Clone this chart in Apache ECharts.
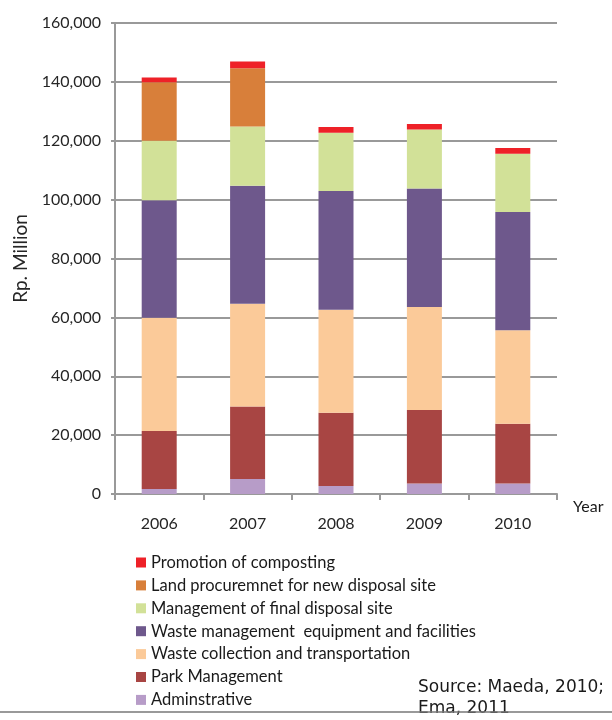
<!DOCTYPE html>
<html>
<head>
<meta charset="utf-8">
<script src="https://cdn.jsdelivr.net/npm/echarts@6/dist/echarts.min.js"></script>
<style>
  html, body { margin: 0; padding: 0; background: #fff; }
  #chart { width: 612px; height: 720px; }
</style>
</head>
<body>
<div id="chart"></div>
<script>
// data (Rp. Million)
const years = ['2006', '2007', '2008', '2009', '2010'];
const administrative = [1700, 5100, 2700, 3600, 3600];
const parkManagement = [19700, 24600, 24900, 24900, 20300];
const wasteCollection = [38500, 34900, 35000, 35000, 31700];
const wasteEquipment = [39900, 40100, 40300, 40300, 40200];
const finalDisposal = [20200, 20100, 19800, 20000, 19800];
const landProcurement = [19900, 19800, 0, 0, 0];
const composting = [1600, 2300, 2000, 1900, 1900];
const yTicks = [0, 20000, 40000, 60000, 80000, 100000, 120000, 140000, 160000];

const font = 'Lato, "Open Sans", sans-serif';
const textColor = '#262626';
const gridColor = '#999999';

// bottom of stack first
const seriesDefs = [
  { name: 'Adminstrative', data: administrative, color: '#b79cc8' },
  { name: 'Park Management', data: parkManagement, color: '#a84543' },
  { name: 'Waste collection and transportation', data: wasteCollection, color: '#fbca99' },
  { name: 'Waste management  equipment and facilities', data: wasteEquipment, color: '#6e588c' },
  { name: 'Management of final disposal site', data: finalDisposal, color: '#d2e198' },
  { name: 'Land procuremnet for new disposal site', data: landProcurement, color: '#d87f3a' },
  { name: 'Promotion of composting', data: composting, color: '#ee2128' },
];

const chart = echarts.init(document.getElementById('chart'), null, { renderer: 'canvas' });

chart.setOption({
  backgroundColor: '#ffffff',
  animation: false,
  grid: { left: 115, right: 55, top: 23, bottom: 226 },
  legend: {
    orient: 'vertical',
    left: 136,
    top: 554,
    padding: 0,
    itemWidth: 10,
    itemHeight: 10,
    itemGap: 5.9,
    icon: 'rect',
    data: seriesDefs.map((s) => s.name).reverse(),
    textStyle: { fontFamily: font, fontSize: 16.5, lineHeight: 16.5, color: '#1a1a1a' },
  },
  xAxis: {
    type: 'category',
    data: years,
    axisLine: { lineStyle: { color: gridColor, width: 2 } },
    axisTick: { show: true, length: 6, lineStyle: { color: gridColor, width: 2 } },
    axisLabel: { color: textColor, fontFamily: font, fontSize: 16, margin: 22 },
  },
  yAxis: {
    type: 'value',
    min: yTicks[0],
    max: yTicks[yTicks.length - 1],
    interval: yTicks[1] - yTicks[0],
    name: 'Rp. Million',
    nameLocation: 'middle',
    nameRotate: 90,
    nameGap: 83,
    nameTextStyle: { color: textColor, fontFamily: font, fontSize: 19 },
    axisLine: { show: true, lineStyle: { color: gridColor, width: 2 } },
    axisTick: { show: true, length: 4, lineStyle: { color: gridColor, width: 2 } },
    axisLabel: {
      color: textColor,
      fontFamily: font,
      fontSize: 16,
      margin: 14,
      formatter: (v) => v.toLocaleString('en-US'),
    },
    splitLine: { lineStyle: { color: gridColor, width: 2 } },
  },
  series: seriesDefs.map((s) => ({
    name: s.name,
    type: 'bar',
    stack: 'total',
    barWidth: 35,
    data: s.data,
    itemStyle: { color: s.color },
  })),
  graphic: [
    {
      type: 'text',
      left: 573,
      top: 499,
      style: { text: 'Year', fill: '#1a1a1a', font: '16px ' + font },
    },
    {
      type: 'text',
      left: 418,
      top: 677,
      style: {
        text: 'Source: Maeda, 2010;\nEma, 2011',
        fill: '#1a1a1a',
        font: '17px "DejaVu Sans", sans-serif',
        lineHeight: 21,
      },
    },
    {
      type: 'line',
      shape: { x1: 0, y1: 712, x2: 612, y2: 712 },
      style: { stroke: '#777', lineWidth: 1.5 },
    },
  ],
});
</script>
</body>
</html>
